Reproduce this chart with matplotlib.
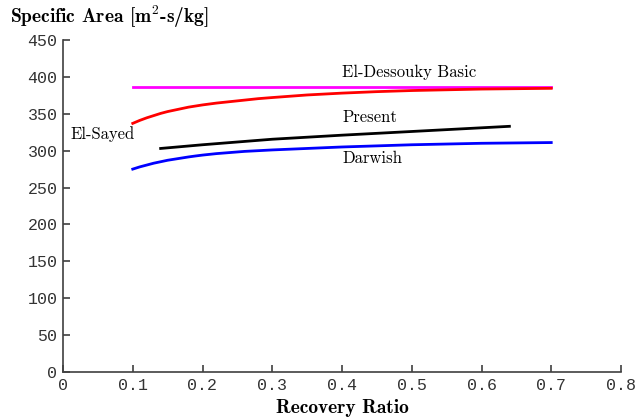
import matplotlib
matplotlib.use("Agg")
import matplotlib.pyplot as plt

plt.rcParams['mathtext.fontset'] = 'cm'

# --- datos ---
x_dessouky = [0.1, 0.7]
y_dessouky = [386, 386]

x_sayed = [0.1, 0.11, 0.12, 0.13, 0.14, 0.15, 0.16, 0.17, 0.18, 0.19, 0.2, 0.22, 0.24, 0.26,
           0.28, 0.3, 0.35, 0.4, 0.45, 0.5, 0.55, 0.6, 0.65, 0.7]
y_sayed = [337, 341, 344.5, 347.5, 350.5, 353, 355, 357, 359, 360.5, 362, 364.5, 366.5, 368.5,
           370.5, 372, 375.5, 378, 380, 381.5, 382.5, 383.5, 384, 384.5]

x_present = [0.14, 0.2, 0.3, 0.4, 0.5, 0.6, 0.64]
y_present = [303, 308, 315.5, 321, 326, 331, 333]

x_darwish = [0.1, 0.11, 0.12, 0.13, 0.14, 0.15, 0.16, 0.17, 0.18, 0.19, 0.2, 0.22, 0.24, 0.26,
             0.28, 0.3, 0.35, 0.4, 0.45, 0.5, 0.55, 0.6, 0.65, 0.7]
y_darwish = [275, 278, 280.5, 283, 285, 287, 288.5, 290, 291.5, 292.8, 294, 296, 297.5, 299,
             300, 301, 303, 305, 306.5, 308, 309, 310, 310.5, 311]

xticks = [0, 0.1, 0.2, 0.3, 0.4, 0.5, 0.6, 0.7, 0.8]
yticks = [0, 50, 100, 150, 200, 250, 300, 350, 400, 450]

fig = plt.figure(figsize=(6.43, 4.17), dpi=100)
ax = fig.add_axes([63 / 643, 1 - 372 / 417, 558 / 643, 332 / 417])

lw = 2.0
ax.plot(x_dessouky, y_dessouky, color='magenta', lw=lw)
ax.plot(x_sayed, y_sayed, color='red', lw=lw)
ax.plot(x_present, y_present, color='black', lw=lw)
ax.plot(x_darwish, y_darwish, color='blue', lw=lw)

# etiquetas de las curvas
ax.text(0.4, 406, 'El-Dessouky Basic', family='cmr10', fontsize=12, va='center')
ax.text(0.4, 345.5, 'Present', family='cmr10', fontsize=12, va='center')
ax.text(0.4, 290, 'Darwish', family='cmr10', fontsize=12, va='center')
ax.text(0.01, 322.5, 'El-Sayed', family='cmr10', fontsize=12, va='center')

ax.set_xlim(0, 0.8)
ax.set_ylim(0, 450)
ax.set_xticks(xticks)
ax.set_yticks(yticks)
ax.set_xticklabels([f'{t:g}' for t in xticks], family='Liberation Mono', fontsize=12)
ax.set_yticklabels([str(t) for t in yticks], family='Liberation Mono', fontsize=12)

for s in ['top', 'right']:
    ax.spines[s].set_visible(False)
for s in ['left', 'bottom']:
    ax.spines[s].set_color('#404040')
    ax.spines[s].set_linewidth(1.2)
ax.tick_params(direction='in', length=5, width=1.2, color='#404040', labelcolor='#333333', pad=4)

fig.text(10 / 643, 1 - 17 / 417, 'Specific Area [m$^{\\mathbf{2}}$-s/kg]', family='cmb10',
         fontsize=14, va='center', ha='left')
fig.text(342 / 643, 1 - 408 / 417, 'Recovery Ratio', family='cmb10', fontsize=14,
         va='center', ha='center')

plt.savefig('out.png', dpi=100)
plt.close(fig)
